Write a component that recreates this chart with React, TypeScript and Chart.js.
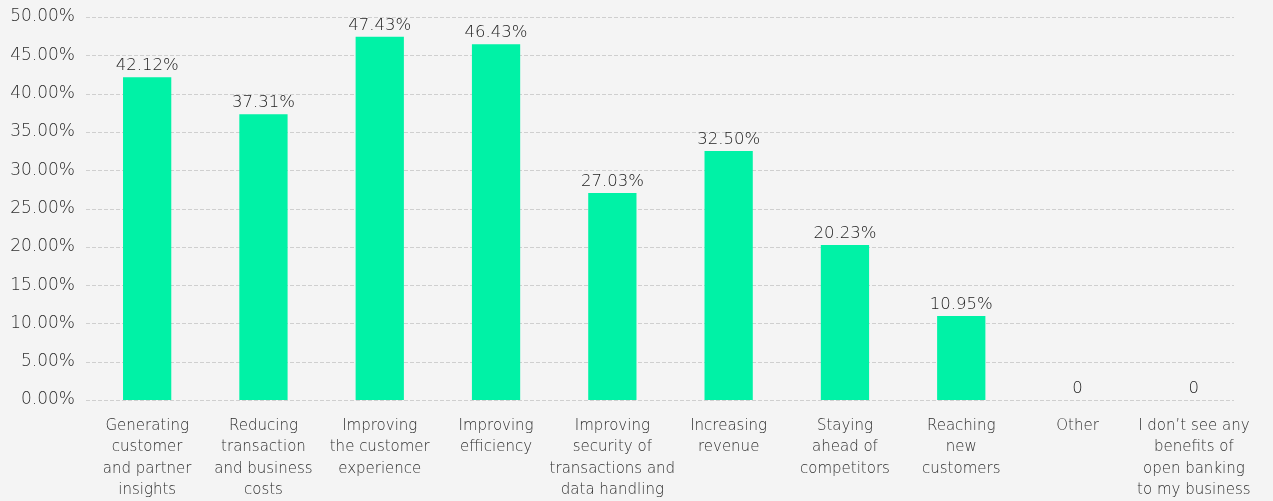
import React, { useEffect, useRef } from "react";
import { Chart, registerables } from "chart.js";

Chart.register(...registerables);

const categories: string[][] = [
  ["Generating", "customer", "and partner", "insights"],
  ["Reducing", "transaction", "and business", "costs"],
  ["Improving", "the customer", "experience"],
  ["Improving", "efficiency"],
  ["Improving", "security of", "transactions and", "data handling"],
  ["Increasing", "revenue"],
  ["Staying", "ahead of", "competitors"],
  ["Reaching", "new", "customers"],
  ["Other"],
  ["I don\u2019t see any", "benefits of", "open banking", "to my business"],
];

const values: number[] = [42.12, 37.31, 47.43, 46.43, 27.03, 32.5, 20.23, 10.95, 0, 0];

const yTicks: number[] = [0, 5, 10, 15, 20, 25, 30, 35, 40, 45, 50];

const FONT = "'DejaVu Sans'";
const BG = "#f4f4f4";
const BAR = "#00f2a6";
const TEXT = "#2e2e2e";

const gridPlugin = {
  id: "dashGrid",
  beforeDatasetsDraw(chart: any) {
    const { ctx } = chart;
    const y = chart.scales.y;
    ctx.save();
    ctx.strokeStyle = "#cfcfcf";
    ctx.lineWidth = 1;
    ctx.setLineDash([4, 2]);
    yTicks.forEach((t) => {
      const py = Math.round(y.getPixelForValue(t)) + 0.5;
      ctx.beginPath();
      ctx.moveTo(86, py);
      ctx.lineTo(1234, py);
      ctx.stroke();
    });
    ctx.restore();
  },
};

const labelPlugin = {
  id: "barLabels",
  afterDatasetsDraw(chart: any) {
    const { ctx } = chart;
    const meta = chart.getDatasetMeta(0);
    ctx.save();
    ctx.font = `200 16.5px ${FONT}`;
    ctx.fillStyle = "#222222";
    ctx.textAlign = "center";
    ctx.textBaseline = "alphabetic";
    meta.data.forEach((el: any, i: number) => {
      const v = values[i];
      const txt = v === 0 ? "0" : v.toFixed(2) + "%";
      ctx.fillText(txt, el.x, el.y - 7);
    });
    ctx.restore();
  },
};

export default function App() {
  const ref = useRef<HTMLCanvasElement | null>(null);

  useEffect(() => {
    if (!ref.current) return;
    const chart = new Chart(ref.current, {
      type: "bar",
      data: {
        labels: categories,
        datasets: [
          {
            data: values,
            backgroundColor: BAR,
            borderWidth: 0,
            barPercentage: 1,
            categoryPercentage: 0.415,
          },
        ],
      },
      options: {
        animation: false,
        responsive: true,
        maintainAspectRatio: false,
        layout: { padding: { top: 17, right: 21, left: 0, bottom: 0 } },
        plugins: {
          legend: { display: false },
          tooltip: { enabled: false },
        },
        scales: {
          x: {
            grid: { display: false, drawTicks: false },
            border: { display: false },
            ticks: {
              padding: 15,
              color: TEXT,
              autoSkip: false,
              maxRotation: 0,
              font: { family: FONT, size: 15, weight: 200, lineHeight: 1.43 },
            },
            afterFit: (s: any) => {
              s.height = 101;
            },
          },
          y: {
            min: 0,
            max: 50,
            grid: { display: false, drawTicks: true, tickLength: 14 },
            border: { display: false },
            afterBuildTicks: (s: any) => {
              s.ticks = yTicks.map((v) => ({ value: v }));
            },
            ticks: {
              padding: 0,
              color: TEXT,
              font: { family: FONT, size: 17, weight: 200 },
              callback: (v: any) => Number(v).toFixed(2) + "%",
            },
            afterFit: (s: any) => {
              s.width = 89;
            },
          },
        },
      },
      plugins: [gridPlugin, labelPlugin],
    });
    return () => chart.destroy();
  }, []);

  return (
    <div
      style={{
        position: "fixed",
        left: 0,
        top: 0,
        width: 1273,
        height: 501,
        background: BG,
      }}
    >
      <canvas ref={ref} />
    </div>
  );
}
